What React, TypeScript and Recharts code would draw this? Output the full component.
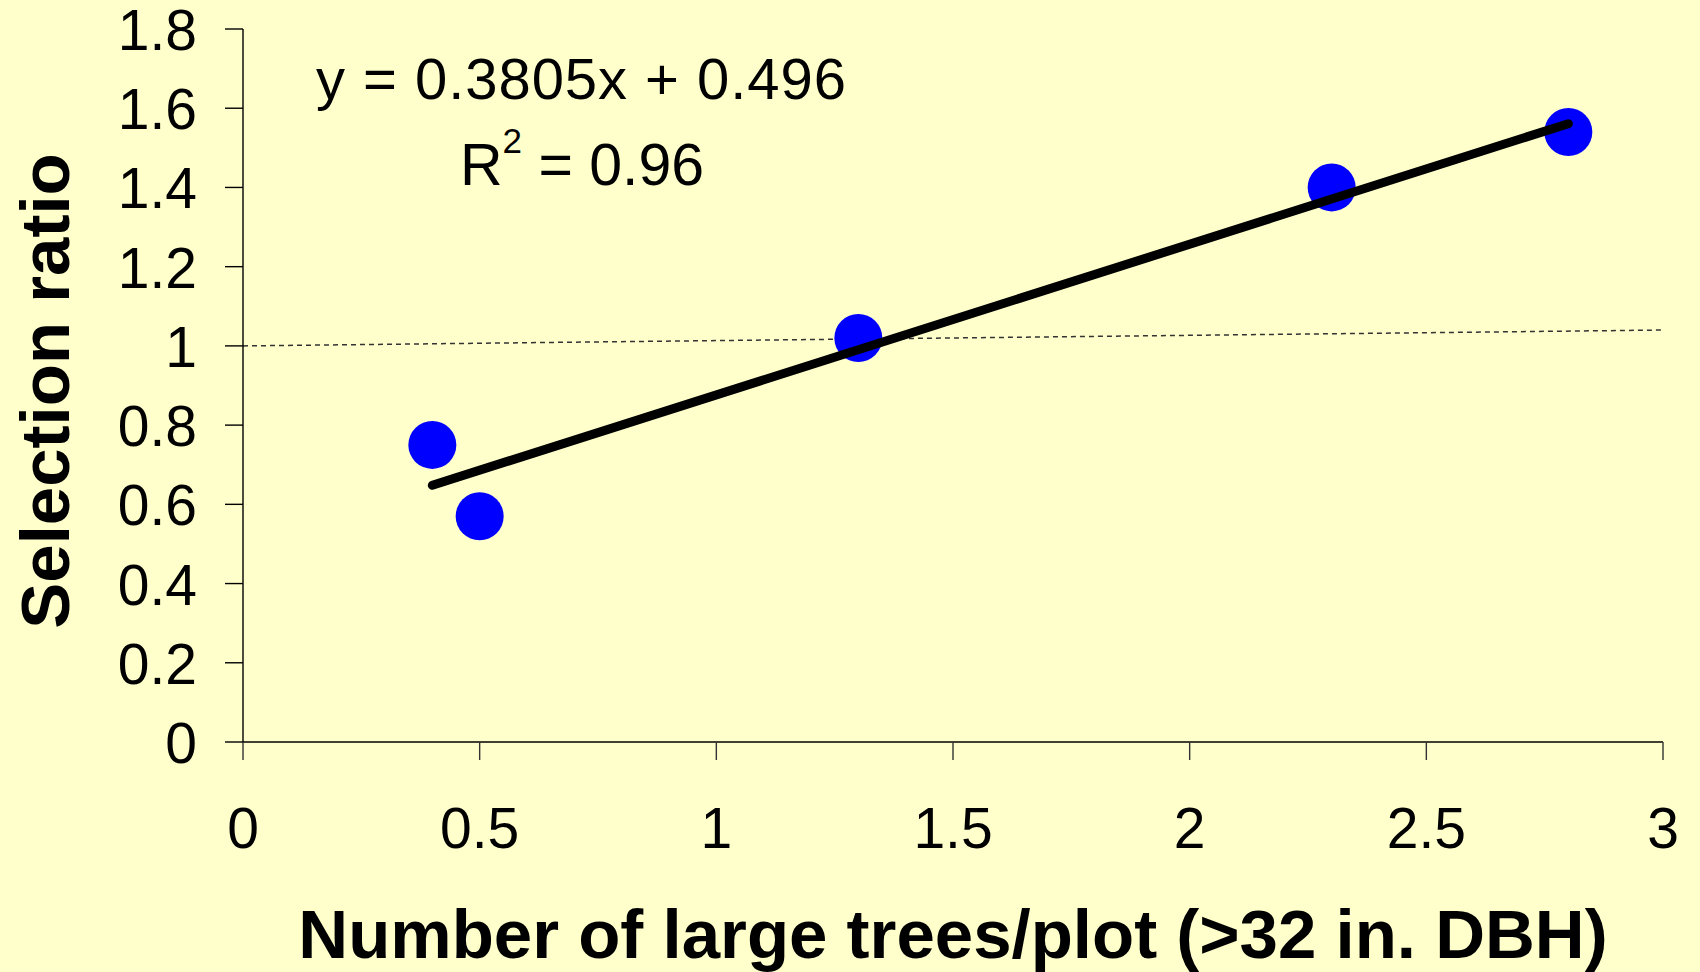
import React from "react";
import {
  ReferenceLine,
  Scatter,
  ScatterChart,
  XAxis,
  YAxis,
} from "recharts";

const FONT = "'Liberation Sans', Arial, Helvetica, sans-serif";
const BG = "#FFFFCC";

// observed points
const treesPerPlot = [0.4, 0.5, 1.3, 2.3, 2.8];
const selectionRatio = [0.75, 0.57, 1.02, 1.4, 1.54];

// fitted line end points
const trendX = [0.4, 2.8];
const trendY = [0.648, 1.561];

// thin dashed reference line
const refX = [0, 3];
const refY = [1.0, 1.04];

const xTicks = [0, 0.5, 1, 1.5, 2, 2.5, 3];
const yTicks = [0, 0.2, 0.4, 0.6, 0.8, 1, 1.2, 1.4, 1.6, 1.8];

const equationText = "y = 0.3805x + 0.496";
const rSquaredValue = "0.96";
const xTitle = "Number of large trees/plot (>32 in. DBH)";
const yTitle = "Selection ratio";

const points = treesPerPlot.map((x, i) => ({ x, y: selectionRatio[i] }));
const trend = trendX.map((x, i) => ({ x, y: trendY[i] }));

function Dot(props: any) {
  const { cx, cy } = props;
  if (cx == null || cy == null) return <g />;
  return <circle cx={cx} cy={cy} r={24} fill="#0000FF" />;
}

function XTick(props: any) {
  const { x, y, payload } = props;
  return (
    <text
      x={x}
      y={y + 88}
      textAnchor="middle"
      fontSize={57}
      fontFamily={FONT}
      fill="#000"
    >
      {payload.value}
    </text>
  );
}

function YTick(props: any) {
  const { x, y, payload } = props;
  return (
    <text
      x={x - 28}
      y={y + 21}
      textAnchor="end"
      fontSize={57}
      fontFamily={FONT}
      fill="#000"
    >
      {payload.value}
    </text>
  );
}

export default function App() {
  return (
    <div
      style={{
        position: "absolute",
        left: 0,
        top: 0,
        width: 1700,
        height: 972,
        background: BG,
      }}
    >
      <ScatterChart
        width={1700}
        height={972}
        margin={{ top: 29, right: 37, bottom: 0, left: 0 }}
      >
        <XAxis
          type="number"
          dataKey="x"
          domain={[0, 3]}
          ticks={xTicks}
          allowDataOverflow
          height={230}
          tickSize={18}
          tickMargin={0}
          axisLine={{ stroke: "#000", strokeWidth: 1.4 }}
          tickLine={{ stroke: "#333", strokeWidth: 1.4 }}
          tick={<XTick />}
        />
        <YAxis
          type="number"
          dataKey="y"
          domain={[0, 1.8]}
          ticks={yTicks}
          allowDataOverflow
          width={243}
          tickSize={18}
          tickMargin={0}
          axisLine={{ stroke: "#000", strokeWidth: 1.4 }}
          tickLine={{ stroke: "#000", strokeWidth: 1.4 }}
          tick={<YTick />}
        />
        <Scatter
          data={points}
          shape={<Dot />}
          isAnimationActive={false}
        />
        <Scatter
          data={trend}
          line={{ stroke: "#000", strokeWidth: 9, strokeLinecap: "round" }}
          shape={() => <g />}
          isAnimationActive={false}
        />
        <ReferenceLine
          segment={[
            { x: refX[0], y: refY[0] },
            { x: refX[1], y: refY[1] },
          ]}
          stroke="#333"
          strokeWidth={1.5}
          strokeDasharray="5 4"
          ifOverflow="extendDomain"
        />
        <text
          x={316}
          y={99}
          textAnchor="start"
          fontSize={58}
          fontFamily={FONT}
          fill="#000"
          textLength={530}
          lengthAdjust="spacing"
        >
          {equationText}
        </text>
        <text
          x={582}
          y={185}
          textAnchor="middle"
          fontSize={59}
          fontFamily={FONT}
          fill="#000"
        >
          R
          <tspan fontSize={35} dy={-32}>
            2
          </tspan>
          <tspan dy={32}>{" = " + rSquaredValue}</tspan>
        </text>
        <text
          x={953}
          y={958}
          textAnchor="middle"
          fontSize={69}
          fontWeight="bold"
          fontFamily={FONT}
          fill="#000"
        >
          {xTitle}
        </text>
        <text
          transform="translate(69, 391) rotate(-90)"
          textAnchor="middle"
          fontSize={69}
          fontWeight="bold"
          fontFamily={FONT}
          fill="#000"
        >
          {yTitle}
        </text>
      </ScatterChart>
    </div>
  );
}
